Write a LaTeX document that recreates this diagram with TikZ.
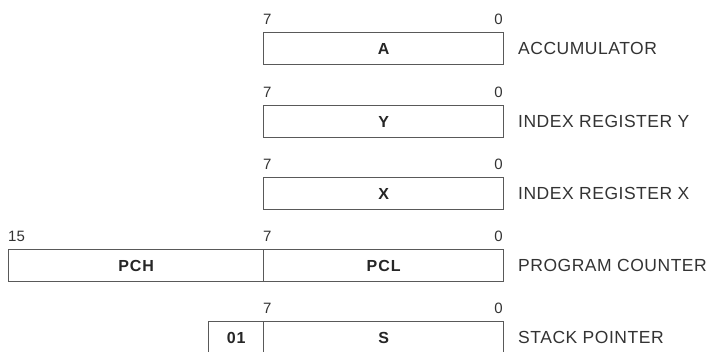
\documentclass[tikz,border=0pt]{standalone}
\usepackage{fontspec}
\setmainfont{Liberation Sans}
\newfontfamily\regboldfont[LetterSpace=6]{Liberation Sans Bold}
\newfontfamily\regnamefont[LetterSpace=3]{Liberation Sans}
\begin{document}
\begin{tikzpicture}[x=1pt,y=-1pt,
  reg/.style={draw=black!65, line width=1.3pt, rectangle, inner sep=0pt, minimum height=32pt, anchor=north west, font=\regboldfont\fontsize{16}{16}\selectfont, text=black!85},
  bitnum/.style={font=\fontsize{15}{15}\selectfont, text=black!80, inner sep=0pt},
  regname/.style={font=\regnamefont\fontsize{17.5}{18}\selectfont, text=black!80, inner sep=0pt, anchor=west}]
\useasboundingbox (0,0) rectangle (713,352);
\clip (0,0) rectangle (713,352);
\fill[white] (0,0) rectangle (713,352);
% Accumulator
\node[reg, minimum width=240pt] (A) at (263,32) {A};
\node[bitnum, anchor=west] (A7) at (263,19) {7};
\node[bitnum, anchor=east] (A0) at (503,19) {0};
\node[regname] (An) at (518,48) {ACCUMULATOR};
% Y
\node[reg, minimum width=240pt] (Y) at (263,105) {Y};
\node[bitnum, anchor=west] (Y7) at (263,92) {7};
\node[bitnum, anchor=east] (Y0) at (503,92) {0};
\node[regname] (Yn) at (518,121) {INDEX REGISTER Y};
% X
\node[reg, minimum width=240pt] (X) at (263,177) {X};
\node[bitnum, anchor=west] (X7) at (263,164) {7};
\node[bitnum, anchor=east] (X0) at (503,164) {0};
\node[regname] (Xn) at (518,193) {INDEX REGISTER X};
% Program counter
\node[reg, minimum width=255pt] (PCH) at (8,249) {PCH};
\node[reg, minimum width=240pt] (PCL) at (263,249) {PCL};
\node[bitnum, anchor=west] (P15) at (8,236) {15};
\node[bitnum, anchor=west] (P7) at (263,236) {7};
\node[bitnum, anchor=east] (P0) at (503,236) {0};
\node[regname] (Pn) at (518,265) {PROGRAM COUNTER};
% Stack pointer
\node[reg, minimum width=55pt] (S1) at (208,321) {01};
\node[reg, minimum width=240pt] (S) at (263,321) {S};
\node[bitnum, anchor=west] (S7) at (263,308) {7};
\node[bitnum, anchor=east] (S0) at (503,308) {0};
\node[regname] (Sn) at (518,337) {STACK POINTER};
\end{tikzpicture}
\end{document}
